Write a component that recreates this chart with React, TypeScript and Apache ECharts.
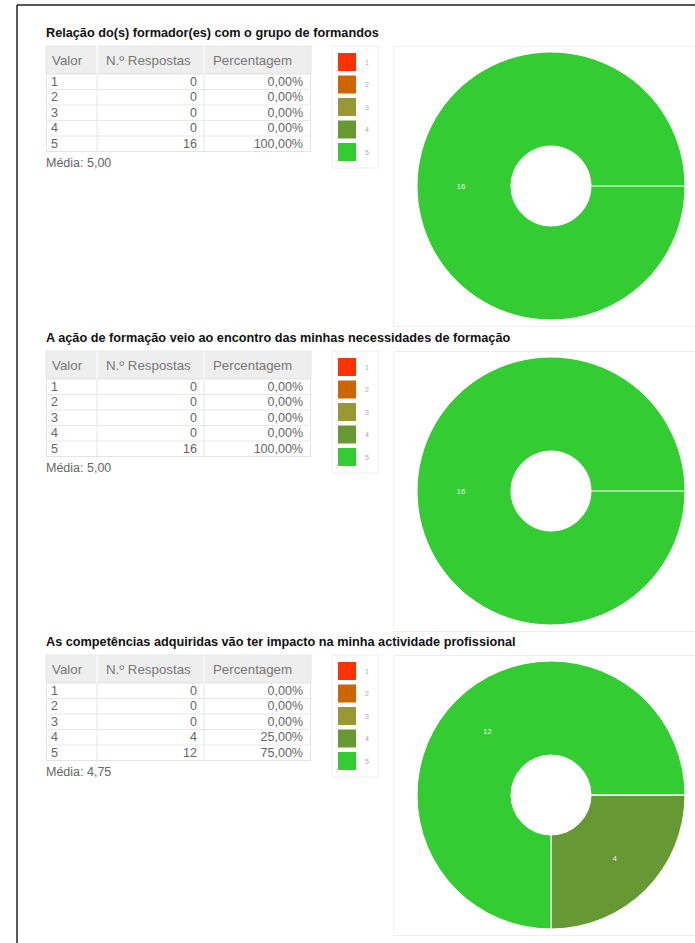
import React, { useEffect, useRef } from "react";
import * as echarts from "echarts";

const FONT = 'Arial, "Liberation Sans", Helvetica, sans-serif';

const sectionTitles = [
  "Relação do(s) formador(es) com o grupo de formandos",
  "A ação de formação veio ao encontro das minhas necessidades de formação",
  "As competências adquiridas vão ter impacto na minha actividade profissional",
];
const valores = ["1", "2", "3", "4", "5"];
const respostas1 = [0, 0, 0, 0, 16];
const respostas2 = [0, 0, 0, 0, 16];
const respostas3 = [0, 0, 0, 4, 12];
const allRespostas = [respostas1, respostas2, respostas3];
const headers = ["Valor", "N.º Respostas", "Percentagem"];
const colors = ["#ff3300", "#cc6600", "#999933", "#669933", "#33cc33"];

const sectionOffsets = [0, 305, 609];
const PIE_CX = 551;
const PIE_CY = 186;
const R_IN = 40;
const R_OUT = 134;

const fmt = (n: number) => n.toFixed(2).replace(".", ",");

function buildOption() {
  const graphic: any[] = [];
  // page frame
  graphic.push({ type: "line", shape: { x1: 17, y1: 5, x2: 695, y2: 5 }, style: { stroke: "#222", lineWidth: 1.5 } });
  graphic.push({ type: "line", shape: { x1: 17, y1: 5, x2: 17, y2: 943 }, style: { stroke: "#222", lineWidth: 1.5 } });

  const legends: any[] = [];
  const series: any[] = [];

  allRespostas.forEach((counts, s) => {
    const dy = sectionOffsets[s];
    const total = counts.reduce((a, b) => a + b, 0);
    const mean = counts.reduce((a, c, i) => a + c * Number(valores[i]), 0) / total;

    graphic.push({
      type: "text",
      x: 46,
      y: 33 + dy,
      style: { text: sectionTitles[s], font: `bold 12.7px ${FONT}`, fill: "#111", textVerticalAlign: "middle" },
    });

    const tx = 46, tw = 265, hy = 46 + dy, hh = 28, rh = 15.5;
    const by = hy + hh;
    const bh = rh * valores.length;
    graphic.push({ type: "rect", shape: { x: tx, y: hy, width: tw, height: hh }, style: { fill: "#eeeeee", stroke: "#e8e8e8", lineWidth: 1 } });
    graphic.push({ type: "rect", shape: { x: tx + 0.5, y: by, width: tw - 1, height: bh }, style: { fill: "#fff", stroke: "#e3e3e3", lineWidth: 1 } });
    for (let r = 1; r < valores.length; r++) {
      graphic.push({ type: "line", shape: { x1: tx, y1: by + r * rh, x2: tx + tw, y2: by + r * rh }, style: { stroke: "#e8e8e8", lineWidth: 1 } });
    }
    [97, 204].forEach((cx) => {
      graphic.push({ type: "line", shape: { x1: cx, y1: hy, x2: cx, y2: by }, style: { stroke: "#f8f8f8", lineWidth: 1.5 } });
      graphic.push({ type: "line", shape: { x1: cx, y1: by, x2: cx, y2: by + bh }, style: { stroke: "#e6e6e6", lineWidth: 1 } });
    });
    const headerX = [52, 106, 213];
    headers.forEach((h, i) => {
      graphic.push({
        type: "text",
        x: headerX[i],
        y: hy + 14.5,
        style: { text: h, font: `13.3px ${FONT}`, fill: "#777", textVerticalAlign: "middle" },
      });
    });
    valores.forEach((v, r) => {
      const cy = by + rh * r + rh / 2;
      graphic.push({ type: "text", x: 51, y: cy, style: { text: v, font: `12.5px ${FONT}`, fill: "#666", textVerticalAlign: "middle" } });
      graphic.push({ type: "text", x: 197, y: cy, style: { text: String(counts[r]), font: `12.5px ${FONT}`, fill: "#666", textAlign: "right", textVerticalAlign: "middle" } });
      graphic.push({ type: "text", x: 303, y: cy, style: { text: fmt((counts[r] / total) * 100) + "%", font: `12.5px ${FONT}`, fill: "#666", textAlign: "right", textVerticalAlign: "middle" } });
    });
    graphic.push({ type: "text", x: 46, y: 163 + dy, style: { text: "Média: " + fmt(mean), font: `12.5px ${FONT}`, fill: "#666", textVerticalAlign: "middle" } });

    // pie panel
    graphic.push({ type: "rect", shape: { x: 393.5, y: 46.5 + dy, width: 320, height: 280 }, style: { fill: "none", stroke: "#eeeeee", lineWidth: 1 } });

    legends.push({
      left: 332,
      top: 46 + dy,
      orient: "vertical",
      data: valores,
      icon: "rect",
      itemWidth: 18,
      itemHeight: 18,
      itemGap: 4.5,
      padding: [7, 9, 7, 6],
      borderColor: "#eeeeee",
      borderWidth: 1,
      selectedMode: false,
      itemStyle: { borderWidth: 0 },
      textStyle: { fontSize: 7, color: "#aaaaaa", fontFamily: FONT, padding: [0, 0, 0, 4] },
    });

    series.push({
      type: "pie",
      center: [PIE_CX, PIE_CY + dy],
      radius: [R_IN, R_OUT],
      startAngle: 0,
      clockwise: true,
      avoidLabelOverlap: false,
      stillShowZeroSum: true,
      itemStyle: { borderColor: "#ffffff", borderWidth: 1 },
      label: {
        show: true,
        position: "inside",
        fontSize: 8,
        fontFamily: FONT,
        color: "#e4f4e4",
        formatter: (p: any) => (p.value > 0 ? String(p.value) : ""),
      },
      labelLine: { show: false },
      emphasis: { disabled: true },
      data: valores.map((v, i) => ({ name: v, value: counts[i], itemStyle: { color: colors[i] } })),
    });

    // seam at the start angle (3 o'clock) where the ring begins
    graphic.push({
      type: "line",
      z: 10,
      shape: { x1: PIE_CX + R_IN, y1: PIE_CY + dy, x2: PIE_CX + R_OUT, y2: PIE_CY + dy },
      style: { stroke: "#ffffff", lineWidth: 1.2 },
    });
  });

  return {
    animation: false,
    backgroundColor: "#ffffff",
    legend: legends,
    series,
    graphic,
  };
}

export default function App() {
  const ref = useRef<HTMLDivElement>(null);
  useEffect(() => {
    if (!ref.current) return;
    const chart = echarts.init(ref.current, undefined, { renderer: "svg" });
    chart.setOption(buildOption() as any);
    return () => chart.dispose();
  }, []);
  return <div ref={ref} style={{ position: "absolute", left: 0, top: 0, width: 695, height: 943 }} />;
}
